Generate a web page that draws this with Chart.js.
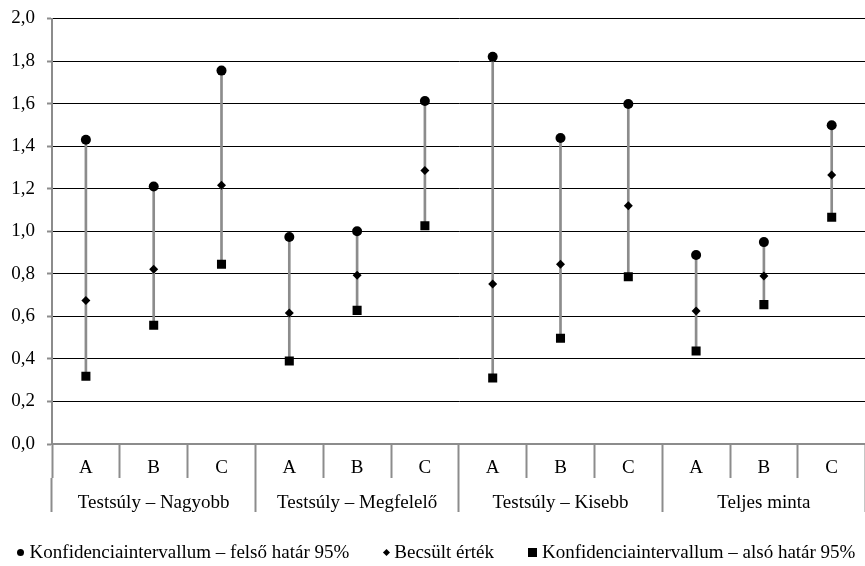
<!DOCTYPE html>
<html>
<head>
<meta charset="utf-8">
<script src="https://cdn.jsdelivr.net/npm/chart.js@4"></script>
<style>
  html, body { margin: 0; padding: 0; background: #fff; overflow: hidden; }
  #wrap { position: relative; width: 872px; height: 566px; }
  #legend {
    position: absolute; left: 0; top: 541px; width: 872px;
    display: flex; justify-content: center; align-items: center;
    font-family: "Liberation Serif", "Times New Roman", serif;
    font-size: 19px; line-height: 22px; color: #000; white-space: nowrap;
  }
  #legend .item { display: flex; align-items: center; margin: 0 17px; }
  #legend .sym { display: inline-block; background: #000; margin-right: 6px; }
  #legend .circle { width: 7px; height: 7px; border-radius: 50%; }
  #legend .rectRot { width: 5px; height: 5px; transform: rotate(45deg); margin-left: 1px; margin-right: 5px; }
  #legend .rect { width: 9px; height: 9px; margin-right: 5px; }
</style>
</head>
<body>
<div id="wrap">
  <canvas id="c" width="872" height="566"></canvas>
  <div id="legend"></div>
</div>
<script>
// Subgroups within each body-weight group, and the groups themselves
const subgroups = ['A', 'B', 'C', 'A', 'B', 'C', 'A', 'B', 'C', 'A', 'B', 'C'];
const groups = ['Testsúly – Nagyobb', 'Testsúly – Megfelelő', 'Testsúly – Kisebb', 'Teljes minta'];

// Upper 95% confidence limit, point estimate, lower 95% confidence limit
const upper    = [1.43, 1.21, 1.755, 0.973, 1.00, 1.612, 1.82, 1.438, 1.598, 0.888, 0.949, 1.498];
const estimate = [0.675, 0.821, 1.216, 0.616, 0.793, 1.285, 0.752, 0.845, 1.12, 0.625, 0.79, 1.264];
const lower    = [0.318, 0.558, 0.845, 0.39, 0.628, 1.026, 0.31, 0.497, 0.786, 0.437, 0.655, 1.066];

const yTicks = [0, 0.2, 0.4, 0.6, 0.8, 1.0, 1.2, 1.4, 1.6, 1.8, 2.0];

const seriesNames = [
  'Konfidenciaintervallum – felső határ 95%',
  'Becsült érték',
  'Konfidenciaintervallum – alsó határ 95%'
];

const FONT = '"Liberation Serif", "Times New Roman", serif';
const AXIS_GREY = '#8c8c8c';

// Legend rendered as HTML from the chart's own legend items
const htmlLegend = {
  id: 'htmlLegend',
  afterUpdate(chart) {
    const box = document.getElementById('legend');
    box.innerHTML = '';
    const items = chart.options.plugins.legend.labels.generateLabels(chart)
      .filter(it => it.datasetIndex < 3);
    items.forEach(it => {
      const item = document.createElement('span');
      item.className = 'item';
      const sym = document.createElement('span');
      sym.className = 'sym ' + it.pointStyle;
      const txt = document.createElement('span');
      txt.textContent = it.text;
      item.appendChild(sym);
      item.appendChild(txt);
      box.appendChild(item);
    });
  }
};

function draw() {
  Chart.defaults.font.family = FONT;
  Chart.defaults.font.size = 19;
  Chart.defaults.color = '#000';

  new Chart(document.getElementById('c'), {
    data: {
      labels: subgroups,
      datasets: [
        {
          type: 'line',
          label: seriesNames[0],
          data: upper,
          showLine: false,
          pointStyle: 'circle',
          pointRadius: 5,
          backgroundColor: '#000',
          borderColor: '#000',
          borderWidth: 0,
          order: 1
        },
        {
          type: 'line',
          label: seriesNames[1],
          data: estimate,
          showLine: false,
          pointStyle: 'rectRot',
          pointRadius: 4.5,
          backgroundColor: '#000',
          borderColor: '#000',
          borderWidth: 0,
          order: 1
        },
        {
          type: 'line',
          label: seriesNames[2],
          data: lower,
          showLine: false,
          pointStyle: 'rect',
          pointRadius: 6.4,
          backgroundColor: '#000',
          borderColor: '#000',
          borderWidth: 0,
          order: 1
        },
        {
          // high-low connector between the two confidence limits
          type: 'bar',
          label: 'range',
          data: lower.map((lo, i) => [lo, upper[i]]),
          backgroundColor: AXIS_GREY,
          barThickness: 2,
          order: 10
        }
      ]
    },
    options: {
      responsive: false,
      animation: false,
      layout: { padding: { left: 0, right: 0, top: 18.5, bottom: 54 } },
      plugins: {
        tooltip: { enabled: false },
        legend: {
          display: false,
          labels: { usePointStyle: true }
        }
      },
      scales: {
        y: {
          min: 0,
          max: 2,
          afterBuildTicks: s => { s.ticks = yTicks.map(v => ({ value: v })); },
          afterFit: s => { s.width = 52; s.paddingTop = 0; s.paddingBottom = 0; },
          ticks: {
            padding: 12,
            callback: v => Number(v).toFixed(1).replace('.', ',')
          },
          grid: {
            color: ctx => (ctx.index === 0 ? AXIS_GREY : '#000'),
            lineWidth: 1,
            tickLength: 5,
            tickColor: AXIS_GREY,
            tickWidth: 2
          },
          border: { color: AXIS_GREY, width: 2 }
        },
        x: {
          type: 'category',
          position: 'bottom',
          weight: 0,
          offset: true,
          afterFit: s => { s.height = 34; },
          ticks: { padding: -21, maxRotation: 0, autoSkip: false },
          grid: {
            offset: true,
            drawOnChartArea: false,
            tickLength: 34,
            tickColor: AXIS_GREY,
            tickWidth: 2
          },
          border: { color: AXIS_GREY, width: 2 }
        },
        x2: {
          type: 'category',
          position: 'bottom',
          weight: 1,
          labels: groups,
          offset: true,
          afterFit: s => { s.height = 34; },
          ticks: { padding: -20, maxRotation: 0, autoSkip: false },
          grid: {
            offset: true,
            drawOnChartArea: false,
            tickLength: 34,
            tickColor: AXIS_GREY,
            tickWidth: 2
          },
          border: { display: false }
        }
      }
    },
    plugins: [htmlLegend]
  });
}

document.fonts.load('19px "Liberation Serif"').then(draw, draw);
</script>
</body>
</html>
